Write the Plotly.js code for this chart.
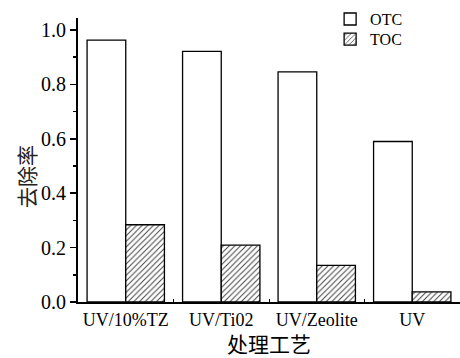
<!DOCTYPE html>
<html><head><meta charset="utf-8">
<script src="https://cdn.plot.ly/plotly-3.0.1.min.js"></script>
<style>body{margin:0;background:#fff}#c{width:460px;height:358px}</style>
</head><body><div id="c"></div>
<script>
var categories = ["UV/10%TZ", "UV/Ti02", "UV/Zeolite", "UV"];
var otc = [0.963, 0.921, 0.846, 0.590];
var toc = [0.284, 0.209, 0.135, 0.037];

var serif = "Liberation Serif, Times New Roman, serif";
var cjk = "Noto Sans CJK SC, sans-serif";

var traces = [
  {type:"bar", name:"OTC", x:categories, y:otc, legend:"legend",
   marker:{color:"#ffffff", line:{color:"#000000", width:1.3}}},
  {type:"bar", name:"TOC", x:categories, y:toc, legend:"legend2",
   marker:{color:"#ffffff", line:{color:"#000000", width:1.3},
     pattern:{shape:"/", size:4, solidity:0.25, fgcolor:"#444444", bgcolor:"#ffffff"}}}
];

var legStyle = function(y){
  return {x:0.66, y:y, xanchor:"left", yanchor:"top", font:{family:serif, size:16, color:"#000"},
    bgcolor:"rgba(0,0,0,0)", itemwidth:30};
};

var layout = {
  width:460, height:358,
  margin:{l:78, r:0, t:18, b:56},
  paper_bgcolor:"#ffffff", plot_bgcolor:"#ffffff",
  barmode:"group", bargap:0.19, bargroupgap:0,
  showlegend:true,
  legend:legStyle(1.056),
  legend2:legStyle(0.985),
  xaxis:{type:"category", range:[-0.5, 3.5], showline:true, linecolor:"#000", linewidth:2,
    ticks:"inside", tickson:"boundaries", ticklen:3, tickcolor:"#000",
    tickfont:{family:serif, size:18, color:"#000"}, showgrid:false, zeroline:false,
    title:{text:"处理工艺", font:{family:cjk, size:21, color:"#000"}, standoff:2}},
  yaxis:{range:[0, 1.044], showline:true, linecolor:"#000", linewidth:2,
    ticks:"outside", ticklen:6, tickwidth:1.5, tickcolor:"#000", dtick:0.2, tickformat:".1f",
    minor:{dtick:0.1, ticks:"outside", ticklen:3, tickcolor:"#000", showgrid:false},
    tickfont:{family:serif, size:20, color:"#000"}, showgrid:false, zeroline:false},
  annotations:[{text:"去除率", xref:"paper", yref:"paper", x:-0.136, y:0.44, textangle:-90,
    xanchor:"center", yanchor:"middle",
    showarrow:false, font:{family:cjk, size:21, color:"#222"}}]
};
Plotly.newPlot("c", traces, layout, {displayModeBar:false, staticPlot:true});
</script></body></html>
